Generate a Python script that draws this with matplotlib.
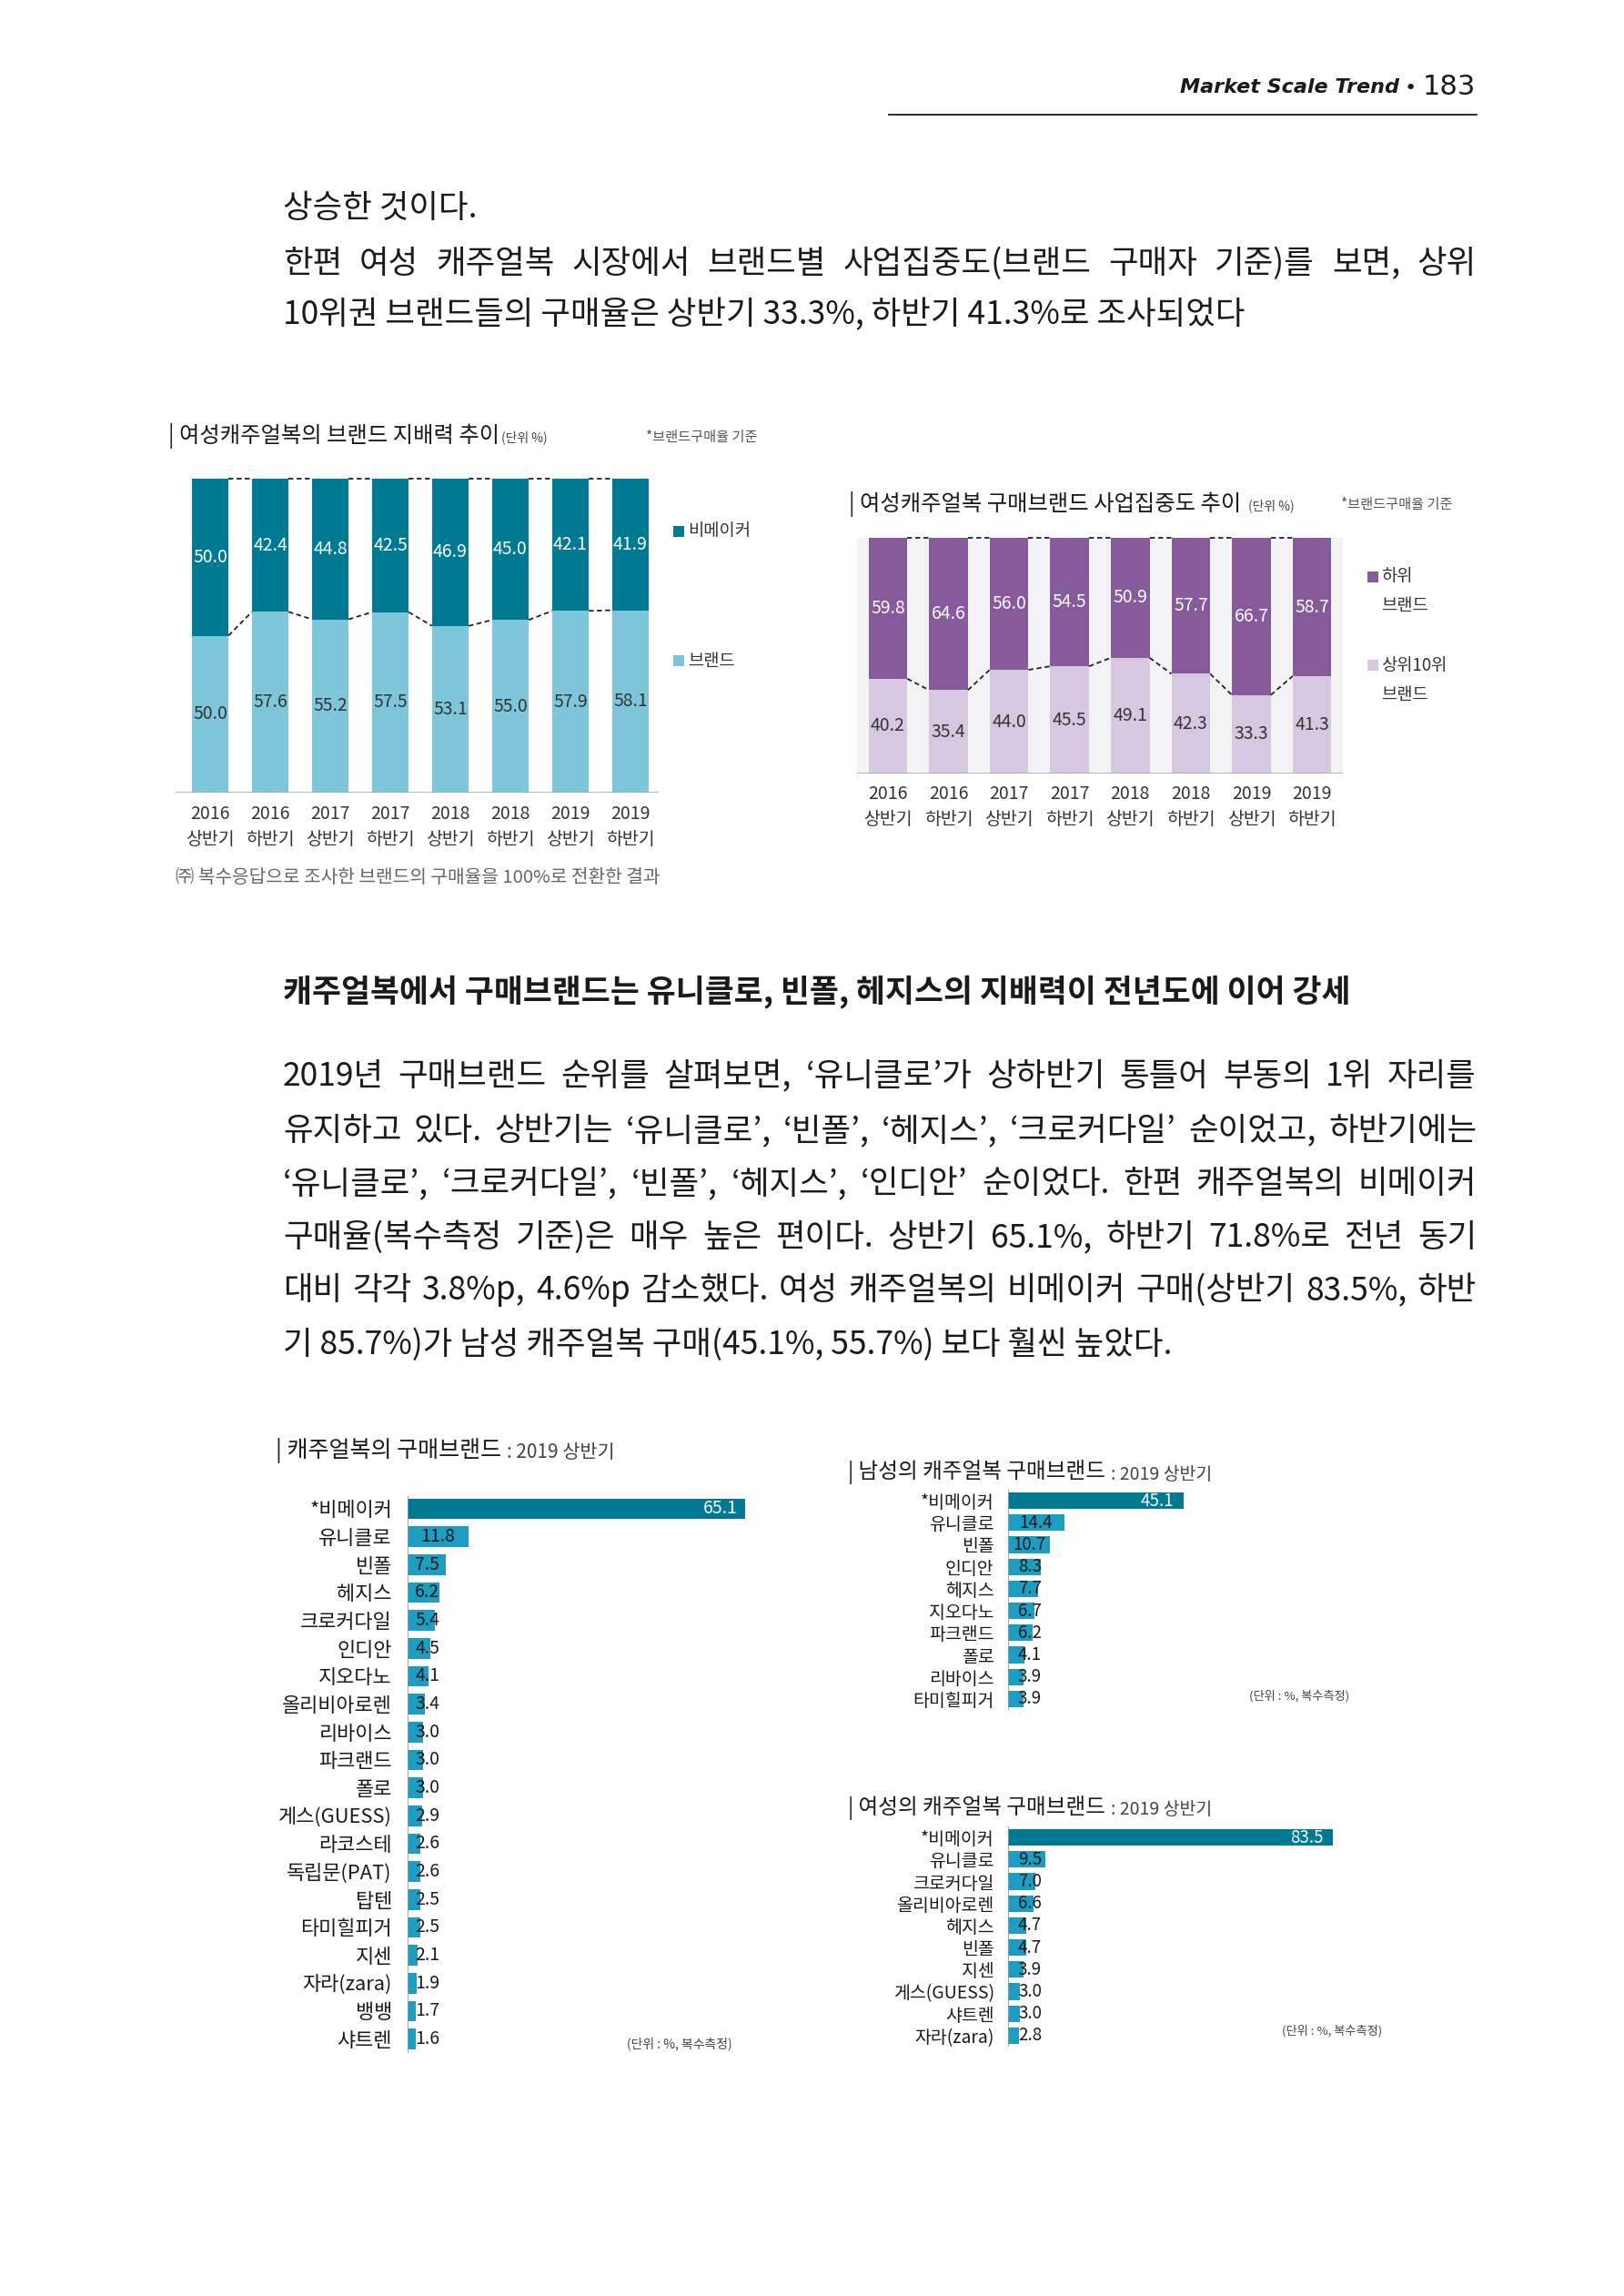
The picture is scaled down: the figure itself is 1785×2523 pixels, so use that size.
import matplotlib
matplotlib.use('Agg')
import matplotlib.pyplot as plt
import numpy as np
from matplotlib import transforms
from matplotlib.patches import Rectangle

W, H = 1785, 2523
plt.rcParams['font.family'] = ['Noto Sans CJK KR', 'DejaVu Sans']

# ── data ──────────────────────────────────────────────────────────────────────
years = ['2016', '2016', '2017', '2017', '2018', '2018', '2019', '2019']
halves = ['상반기', '하반기', '상반기', '하반기', '상반기', '하반기', '상반기', '하반기']

brand_share = [50.0, 57.6, 55.2, 57.5, 53.1, 55.0, 57.9, 58.1]
nonmaker_share = [50.0, 42.4, 44.8, 42.5, 46.9, 45.0, 42.1, 41.9]

top10_share = [40.2, 35.4, 44.0, 45.5, 49.1, 42.3, 33.3, 41.3]
lower_share = [59.8, 64.6, 56.0, 54.5, 50.9, 57.7, 66.7, 58.7]

all_names = ['*비메이커', '유니클로', '빈폴', '헤지스', '크로커다일', '인디안', '지오다노',
             '올리비아로렌', '리바이스', '파크랜드', '폴로', '게스(GUESS)', '라코스테',
             '독립문(PAT)', '탑텐', '타미힐피거', '지센', '자라(zara)', '뱅뱅', '샤트렌']
all_vals = [65.1, 11.8, 7.5, 6.2, 5.4, 4.5, 4.1, 3.4, 3.0, 3.0, 3.0, 2.9, 2.6, 2.6,
            2.5, 2.5, 2.1, 1.9, 1.7, 1.6]

men_names = ['*비메이커', '유니클로', '빈폴', '인디안', '헤지스', '지오다노', '파크랜드',
             '폴로', '리바이스', '타미힐피거']
men_vals = [45.1, 14.4, 10.7, 8.3, 7.7, 6.7, 6.2, 4.1, 3.9, 3.9]

women_names = ['*비메이커', '유니클로', '크로커다일', '올리비아로렌', '헤지스', '빈폴', '지센',
               '게스(GUESS)', '샤트렌', '자라(zara)']
women_vals = [83.5, 9.5, 7.0, 6.6, 4.7, 4.7, 3.9, 3.0, 3.0, 2.8]

para1 = [
    '상승한 것이다.',
    '한편 여성 캐주얼복 시장에서 브랜드별 사업집중도(브랜드 구매자 기준)를 보면, 상위',
    '10위권 브랜드들의 구매율은 상반기 33.3%, 하반기 41.3%로 조사되었다',
]
heading = '캐주얼복에서 구매브랜드는 유니클로, 빈폴, 헤지스의 지배력이 전년도에 이어 강세'
para2 = [
    '2019년 구매브랜드 순위를 살펴보면, ‘유니클로’가 상하반기 통틀어 부동의 1위 자리를',
    '유지하고 있다. 상반기는 ‘유니클로’, ‘빈폴’, ‘헤지스’, ‘크로커다일’ 순이었고, 하반기에는',
    '‘유니클로’, ‘크로커다일’, ‘빈폴’, ‘헤지스’, ‘인디안’ 순이었다. 한편 캐주얼복의 비메이커',
    '구매율(복수측정 기준)은 매우 높은 편이다. 상반기 65.1%, 하반기 71.8%로 전년 동기',
    '대비 각각 3.8%p, 4.6%p 감소했다. 여성 캐주얼복의 비메이커 구매(상반기 83.5%, 하반',
    '기 85.7%)가 남성 캐주얼복 구매(45.1%, 55.7%) 보다 훨씬 높았다.',
]

TEAL = '#007a92'
LIGHT_BLUE = '#7ec7db'
SKY = '#1e9dc2'
PURPLE = '#875a9c'
LAVENDER = '#d7c7e1'
PANEL = '#f3f3f5'
INK = '#1a1a1a'
GREY_TXT = '#333333'

fig = plt.figure(figsize=(W / 100, H / 100), dpi=100)
renderer = fig.canvas.get_renderer()


def fx(x):
    return x / W


def fy(y):
    return 1 - y / H


def ftext(x, y, s, **kw):
    kw.setdefault('va', 'center')
    return fig.text(fx(x), fy(y), s, **kw)


def px_axes(l, t, r, b):
    return fig.add_axes([fx(l), fy(b), (r - l) / W, (b - t) / H])


def width_of(t):
    return t.get_window_extent(renderer).width


def justify(line, x0, x1, y, size, **kw):
    words = line.split(' ')
    ts = [ftext(x0, y, w, fontsize=size, color=INK, **kw) for w in words]
    ws = [width_of(t) for t in ts]
    gap = (x1 - x0 - sum(ws)) / (len(words) - 1)
    x = x0
    for t, w in zip(ts, ws):
        t.set_x(fx(x))
        x += w + gap


def title_pair(x, y, main, sub, s_main, s_sub, gap=6):
    t = ftext(x, y, main, fontsize=s_main, color=INK)
    ftext(x + width_of(t) + gap, y + 2, sub, fontsize=s_sub, color='#444444')


def legend_box(x, y, color):
    fig.add_artist(Rectangle((fx(x), fy(y + 6)), 12 / W, 12 / H, transform=fig.transFigure,
                             color=color, lw=0))


# ── header ────────────────────────────────────────────────────────────────────
ftext(1538, 96, 'Market Scale Trend', fontsize=16, family='DejaVu Sans', style='italic',
      weight='bold', ha='right', color=INK)
ftext(1550, 97, '•', fontsize=16, family='DejaVu Sans', ha='center', color=INK)
ftext(1622, 96, '183', fontsize=22, family='DejaVu Sans', ha='right', color=INK)
fig.add_artist(plt.Line2D([fx(977), fx(1623)], [fy(126), fy(126)], transform=fig.transFigure,
                          color=INK, lw=1.3))

# ── body text ─────────────────────────────────────────────────────────────────
BODY = 25.5
X0, X1 = 311, 1623
ftext(X0, 229, para1[0], fontsize=BODY, color=INK)
justify(para1[1], X0, X1, 290, BODY)
ftext(X0, 346, para1[2], fontsize=BODY, color=INK)

ftext(X0, 1090, heading, fontsize=25, weight='bold', color=INK)

ys2 = [1183, 1243, 1301, 1360, 1418, 1478]
for i, (line, yy) in enumerate(zip(para2, ys2)):
    if i < len(para2) - 1:
        justify(line, X0, X1, yy, BODY)
    else:
        ftext(X0, yy, line, fontsize=BODY, color=INK)


# ── stacked bar charts ────────────────────────────────────────────────────────
def stacked(ax, low, high, c_low, c_high, width, fig_y_year, fig_y_half):
    x = np.arange(len(low))
    low = np.array(low)
    high = np.array(high)
    ax.bar(x, low, width, color=c_low, lw=0)
    ax.bar(x, high, width, bottom=low, color=c_high, lw=0)
    for i in x:
        ax.text(i, low[i] / 2, f'{low[i]:.1f}', ha='center', va='center',
                fontsize=14, color=GREY_TXT)
        ax.text(i, low[i] + high[i] / 2, f'{high[i]:.1f}', ha='center', va='center',
                fontsize=14, color='white')
    top = low + high
    for i in x[:-1]:
        xs = [i + width / 2, i + 1 - width / 2]
        ax.plot(xs, [low[i], low[i + 1]], color='#222222', lw=1.3, ls=(0, (3, 2)),
                clip_on=False)
        ax.plot(xs, [top[i], top[i + 1]], color='#222222', lw=1.3, ls=(0, (3, 2)),
                clip_on=False)
    ax.set_ylim(0, 100)
    ax.axhline(0, color='#aaaaaa', lw=1.2)
    for s in ax.spines.values():
        s.set_visible(False)
    ax.set_xticks([])
    ax.set_yticks([])
    tr = transforms.blended_transform_factory(ax.transData, fig.transFigure)
    for i in x:
        ax.text(i, fy(fig_y_year), years[i], transform=tr, ha='center', va='center',
                fontsize=14, color=GREY_TXT)
        ax.text(i, fy(fig_y_half), halves[i], transform=tr, ha='center', va='center',
                fontsize=14, color=GREY_TXT)


# chart 1: brand vs non-maker
ax1 = px_axes(193, 526, 724, 871)
ax1.set_facecolor('white')
stacked(ax1, brand_share, nonmaker_share, LIGHT_BLUE, TEAL, 0.61, 895, 922)
ax1.set_xlim(-0.576, 7.47)
title_pair(185, 479, '| 여성캐주얼복의 브랜드 지배력 추이', '(단위 %)', 17.5, 10, gap=2)
ftext(710, 480, '*브랜드구매율 기준', fontsize=11, color='#555555')
legend_box(740, 584, TEAL)
ftext(756, 584, '비메이커', fontsize=13.5, color=GREY_TXT)
legend_box(740, 726, LIGHT_BLUE)
ftext(756, 726, '브랜드', fontsize=13.5, color=GREY_TXT)
ftext(193, 964, '㈜ 복수응답으로 조사한 브랜드의 구매율을 100%로 전환한 결과', fontsize=14.6,
      color='#666666')

# chart 2: top-10 vs lower brands
ax2 = px_axes(942, 591, 1476, 850)
ax2.set_facecolor(PANEL)
stacked(ax2, top10_share, lower_share, LAVENDER, PURPLE, 0.64, 872, 900)
ax2.set_xlim(-0.51, 7.51)
title_pair(933, 554, '| 여성캐주얼복 구매브랜드 사업집중도 추이', '(단위 %)', 17.5, 10, gap=8)
ftext(1474, 555, '*브랜드구매율 기준', fontsize=11, color='#555555')
legend_box(1503, 634, PURPLE)
ftext(1518, 634, '하위', fontsize=13.5, color=GREY_TXT)
ftext(1518, 666, '브랜드', fontsize=13.5, color=GREY_TXT)
legend_box(1503, 731, LAVENDER)
ftext(1518, 731, '상위10위', fontsize=13.5, color=GREY_TXT)
ftext(1518, 763, '브랜드', fontsize=13.5, color=GREY_TXT)


# ── horizontal bar charts ─────────────────────────────────────────────────────
def hbars(ax, names, vals, height, label_min, inner_pad, label_size, val_size, pad):
    y = np.arange(len(vals))
    colors = [TEAL] + [SKY] * (len(vals) - 1)
    ax.barh(y, vals, height, color=colors, lw=0)
    ax.set_xlim(0, 100)
    ax.set_ylim(len(vals) - 0.5, -0.5)
    ax.axvline(0, color='#999999', lw=1.2)
    for s in ax.spines.values():
        s.set_visible(False)
    ax.set_xticks([])
    ax.set_yticks(y)
    ax.set_yticklabels(names, fontsize=label_size, color=INK)
    ax.tick_params(axis='y', length=0, pad=pad)
    ax.patch.set_alpha(0)
    for i, v in zip(y, vals):
        if i == 0:
            ax.text(v - inner_pad, i, f'{v:.1f}', ha='right', va='center',
                    fontsize=val_size, color='white')
        else:
            ax.text(max(v / 2, label_min), i, f'{v:.1f}', ha='center', va='center',
                    fontsize=val_size, color=INK)


# chart 3: all casual buyers
ax3 = px_axes(447.5, 1642.6, 1018.5, 2256)
hbars(ax3, all_names, all_vals, 0.74, 3.9, 1.4, 15.8, 14, 12)
title_pair(303, 1594, '| 캐주얼복의 구매브랜드', ': 2019 상반기', 18, 15, gap=6)
ftext(689, 2246, '(단위 : %, 복수측정)', fontsize=10, color='#444444')

# chart 4: men
ax4 = px_axes(1108, 1637, 1536, 1879)
hbars(ax4, men_names, men_vals, 0.76, 5.6, 2.6, 14, 13.5, 11)
title_pair(932, 1618, '| 남성의 캐주얼복 구매브랜드', ': 2019 상반기', 17, 14, gap=6)
ftext(1373, 1864, '(단위 : %, 복수측정)', fontsize=9.5, color='#444444')

# chart 5: women
ax5 = px_axes(1108, 2007, 1536, 2249)
hbars(ax5, women_names, women_vals, 0.76, 5.6, 2.6, 14, 13.5, 11)
title_pair(932, 1987, '| 여성의 캐주얼복 구매브랜드', ': 2019 상반기', 17, 14, gap=6)
ftext(1409, 2232, '(단위 : %, 복수측정)', fontsize=9.5, color='#444444')

fig.savefig('out.png', dpi=100, facecolor='white')
